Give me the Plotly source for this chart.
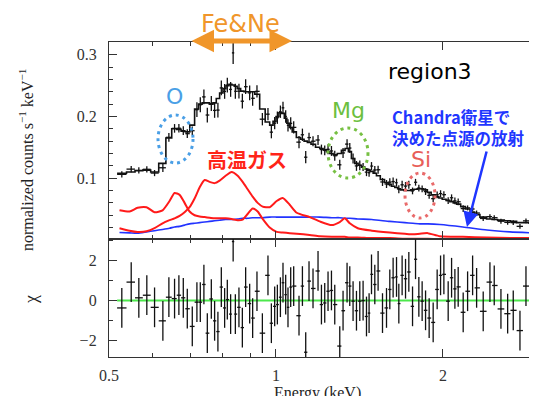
import numpy as np
import plotly.graph_objects as go

# ---------------- data ----------------
energy = [0.5273, 0.5483, 0.5659, 0.5850, 0.6041, 0.6253, 0.6411, 0.6564, 0.6683, 0.6806,
          0.6920, 0.7065, 0.7202, 0.7304, 0.7414, 0.7520, 0.7646, 0.7751, 0.7858, 0.7970,
          0.8080, 0.8171, 0.8284, 0.8371, 0.8448, 0.8575, 0.8697, 0.8817, 0.8965, 0.9077,
          0.9241, 0.9451, 0.9673, 0.9811, 0.9946, 1.0058, 1.0185, 1.0295, 1.0411, 1.0511,
          1.0630, 1.0763, 1.1003, 1.1160, 1.1314, 1.1470, 1.1662, 1.1907, 1.2077, 1.2243,
          1.2412, 1.2589, 1.2763, 1.3031, 1.3211, 1.3432, 1.3584, 1.3771, 1.3967, 1.4160,
          1.4356, 1.4560, 1.4718, 1.4866, 1.5071, 1.5279, 1.5561, 1.5822, 1.6040, 1.6262,
          1.6493, 1.6652, 1.6881, 1.7122, 1.7358, 1.7627, 1.7848, 1.8095, 1.8344, 1.8606,
          1.8886, 1.9203, 1.9524, 1.9802, 2.0076, 2.0438, 2.0728, 2.1015, 2.1305, 2.1752,
          2.2154, 2.2619, 2.2998, 2.3637, 2.4305, 2.4743, 2.5442, 2.6160, 2.6776, 2.7532,
          2.8227, 2.8976]

model = [0.108, 0.110, 0.112, 0.113, 0.110, 0.124, 0.165, 0.180, 0.179, 0.176,
         0.175, 0.186, 0.212, 0.220, 0.222, 0.222, 0.220, 0.222, 0.229, 0.238,
         0.245, 0.250, 0.252, 0.251, 0.249, 0.245, 0.241, 0.240, 0.240, 0.240,
         0.236, 0.212, 0.191, 0.186, 0.192, 0.200, 0.206, 0.205, 0.197, 0.189,
         0.182, 0.175, 0.166, 0.163, 0.160, 0.158, 0.155, 0.150, 0.148, 0.146,
         0.143, 0.140, 0.138, 0.140, 0.145, 0.148, 0.143, 0.132, 0.124, 0.121,
         0.118, 0.115, 0.113, 0.111, 0.108, 0.104, 0.098, 0.093, 0.090, 0.087,
         0.085, 0.083, 0.081, 0.080, 0.080, 0.081, 0.082, 0.083, 0.083, 0.081,
         0.077, 0.073, 0.070, 0.068, 0.066, 0.064, 0.062, 0.060, 0.058, 0.054,
         0.050, 0.045, 0.041, 0.037, 0.034, 0.033, 0.032, 0.031, 0.030, 0.028,
         0.028, 0.027]

counts = [0.1062, 0.1147, 0.1127, 0.1144, 0.1083, 0.1169, 0.1662, 0.1807, 0.1809, 0.1770,
          0.1721, 0.1769, 0.2110, 0.2190, 0.2317, 0.2023, 0.2210, 0.2098, 0.2103, 0.2462,
          0.2406, 0.2506, 0.2438, 0.3030, 0.2408, 0.2409, 0.2247, 0.2482, 0.2382, 0.2294,
          0.2407, 0.1956, 0.2037, 0.1746, 0.1891, 0.1980, 0.2077, 0.2140, 0.2000, 0.1856,
          0.1888, 0.1823, 0.1584, 0.1703, 0.1340, 0.1658, 0.1599, 0.1619, 0.1464, 0.1450,
          0.1468, 0.1441, 0.1364, 0.1217, 0.1409, 0.1552, 0.1488, 0.1318, 0.1199, 0.1208,
          0.1180, 0.1098, 0.1089, 0.1196, 0.1133, 0.1137, 0.0939, 0.0906, 0.0936, 0.0945,
          0.0927, 0.0820, 0.0893, 0.0872, 0.0894, 0.0794, 0.0934, 0.0840, 0.0828, 0.0783,
          0.0722, 0.0669, 0.0731, 0.0750, 0.0733, 0.0638, 0.0683, 0.0632, 0.0618, 0.0508,
          0.0519, 0.0501, 0.0436, 0.0348, 0.0377, 0.0360, 0.0303, 0.0284, 0.0280, 0.0220,
          0.0309, 0.0224]

counts_err = [0.005, 0.005, 0.005, 0.005, 0.005, 0.007, 0.007, 0.007, 0.007, 0.007,
              0.007, 0.007, 0.012, 0.012, 0.012, 0.012, 0.012, 0.012, 0.012, 0.012,
              0.012, 0.012, 0.012, 0.018, 0.012, 0.012, 0.012, 0.012, 0.012, 0.012,
              0.010, 0.010, 0.010, 0.010, 0.010, 0.010, 0.010, 0.010, 0.010, 0.010,
              0.010, 0.010, 0.010, 0.010, 0.010, 0.008, 0.008, 0.008, 0.008, 0.008,
              0.008, 0.008, 0.008, 0.008, 0.008, 0.008, 0.008, 0.008, 0.008, 0.008,
              0.0065, 0.0065, 0.0065, 0.0065, 0.0065, 0.0065, 0.0065, 0.0065, 0.0065, 0.0065,
              0.0065, 0.0065, 0.0065, 0.0065, 0.0065, 0.0055, 0.0055, 0.0055, 0.0055, 0.0055,
              0.0055, 0.0055, 0.0055, 0.0055, 0.0055, 0.0055, 0.0055, 0.0055, 0.0055, 0.0055,
              0.004, 0.004, 0.004, 0.004, 0.004, 0.004, 0.004, 0.004, 0.004, 0.004,
              0.004, 0.004]

resid = [-0.37, 0.93, 0.14, 0.27, -0.34, -1.02, 0.17, 0.10, 0.27, 0.14,
         -0.41, -1.30, -0.08, -0.08, 0.81, -1.64, 0.08, -1.02, -1.56, 0.68,
         -0.37, 0.05, -0.68, 2.97, -0.68, -0.34, -1.36, 0.68, -0.15, -0.88,
         0.47, -1.64, 1.27, -1.14, -0.29, -0.20, 0.17, 0.90, 0.30, -0.34,
         0.68, 0.73, -0.76, 0.73, -2.60, 0.98, 0.61, 1.49, -0.20, -0.12,
         0.47, 0.51, -0.20, -2.29, -0.51, 0.90, 0.73, -0.03, -0.51, -0.03,
         0.00, -0.80, -0.63, 1.32, 0.81, 1.49, -0.63, -0.37, 0.56, 1.15,
         1.19, -0.15, 1.27, 1.10, 1.44, -0.29, 2.08, 0.19, -0.03, -0.49,
         -0.88, -1.10, 0.56, 1.27, 1.32, -0.03, 1.15, 0.59, 0.69, -0.59,
         0.47, 1.27, 0.64, -0.54, 0.93, 0.76, -0.42, -0.66, -0.49, -1.51,
         0.73, -1.14]

comp_energy = [0.5223, 0.5445, 0.5629, 0.5843, 0.6041, 0.6245, 0.6429, 0.6564, 0.6702, 0.6843,
               0.6986, 0.7133, 0.7283, 0.7436, 0.7592, 0.7751, 0.7914, 0.8114, 0.8319, 0.8529,
               0.8708, 0.8891, 0.9077, 0.9268, 0.9462, 0.9742, 1.0029, 1.0282, 1.0586, 1.0898,
               1.1503, 1.1991, 1.2605, 1.3031, 1.3304, 1.3584, 1.4043, 1.4884, 1.6040, 1.7072,
               1.7649, 1.8170, 1.8785, 1.9745, 2.1725, 2.4004, 2.6411, 2.9550]

hot_gas_1 = [0.048, 0.046, 0.052, 0.053, 0.045, 0.048, 0.063, 0.076, 0.073, 0.060,
             0.046, 0.040, 0.038, 0.037, 0.036, 0.035, 0.035, 0.035, 0.034, 0.032,
             0.033, 0.042, 0.051, 0.046, 0.034, 0.020, 0.013, 0.012, 0.011, 0.010,
             0.008, 0.006, 0.005, 0.005, 0.005, 0.004, 0.004, 0.003, 0.003, 0.002,
             0.002, 0.002, 0.002, 0.001, 0.001, 0.001, 0.001, 0.001]

hot_gas_2 = [0.019, 0.015, 0.013, 0.014, 0.019, 0.027, 0.032, 0.035, 0.039, 0.045,
             0.053, 0.067, 0.085, 0.097, 0.094, 0.092, 0.096, 0.104, 0.110, 0.104,
             0.094, 0.082, 0.070, 0.060, 0.054, 0.053, 0.063, 0.068, 0.057, 0.044,
             0.037, 0.030, 0.024, 0.029, 0.035, 0.027, 0.019, 0.015, 0.012, 0.010,
             0.009, 0.010, 0.011, 0.006, 0.005, 0.004, 0.003, 0.003]

point_source = [0.012, 0.0115, 0.011, 0.013, 0.015, 0.017, 0.019, 0.021, 0.022, 0.024,
                0.026, 0.027, 0.028, 0.029, 0.030, 0.031, 0.032, 0.033, 0.033, 0.034,
                0.035, 0.035, 0.036, 0.036, 0.036, 0.037, 0.037, 0.037, 0.037, 0.037,
                0.037, 0.037, 0.036, 0.036, 0.035, 0.035, 0.034, 0.033, 0.030, 0.028,
                0.027, 0.026, 0.026, 0.025, 0.021, 0.016, 0.013, 0.011]

x_tickvals = [0.5, 1, 2]
x_ticktext = ["0.5", "1", "2"]
x_minor = [0.6, 0.7, 0.8, 0.9]
y1_tickvals = [0.1, 0.2, 0.3]
y1_ticktext = ["0.1", "0.2", "0.3"]
y2_tickvals = [-2, 0, 2]
y2_ticktext = ["\u22122", "0", "2"]
x_range = [0.5, 2.955]
y1_range = [0.0015, 0.3206]
y2_range = [-2.84, 3.1]

# ---------------- bins ----------------
E = np.array(energy)
logE = np.log10(E)
mid = 0.5 * (logE[1:] + logE[:-1])
lo = 10 ** np.concatenate([[2 * logE[0] - mid[0]], mid])
hi = 10 ** np.concatenate([mid, [2 * logE[-1] - mid[-1]]])

INK = "#111111"
fig = go.Figure()

# model components (top panel)
for comp, col, w in [(point_source, "#2233FF", 1.6), (hot_gas_1, "#FF1A1A", 2.0), (hot_gas_2, "#FF1A1A", 2.0)]:
    fig.add_trace(go.Scatter(x=comp_energy, y=comp, mode="lines",
                             line=dict(color=col, width=w, shape="spline", smoothing=0.6),
                             xaxis="x", yaxis="y", hoverinfo="skip"))

# data with error bars
fig.add_trace(go.Scatter(
    x=energy, y=counts, mode="markers", marker=dict(size=1, color=INK),
    error_x=dict(type="data", symmetric=False, array=hi - E, arrayminus=E - lo,
                 width=0, thickness=1.3, color=INK),
    error_y=dict(type="data", array=counts_err, width=0, thickness=1.3, color=INK),
    xaxis="x", yaxis="y"))

# total model as histogram
fig.add_trace(go.Scatter(x=list(lo) + [hi[-1]], y=model + [model[-1]], mode="lines",
                         line=dict(shape="hv", color=INK, width=1.6), xaxis="x", yaxis="y"))

# residual panel
fig.add_trace(go.Scatter(x=[lo[0], hi[-1]], y=[0, 0], mode="lines",
                         line=dict(color="#4CE84C", width=2), xaxis="x2", yaxis="y2"))
fig.add_trace(go.Scatter(
    x=energy, y=resid, mode="markers", marker=dict(size=1, color=INK),
    error_x=dict(type="data", symmetric=False, array=hi - E, arrayminus=E - lo,
                 width=0, thickness=1.3, color=INK),
    error_y=dict(type="constant", value=1, width=0, thickness=1.3, color=INK),
    xaxis="x2", yaxis="y2"))

axcol = "#333333"
tickfont = dict(family="Liberation Serif", size=16, color="#333333")
common = dict(showline=True, linecolor=axcol, linewidth=1.3, mirror="ticks", ticks="inside",
              tickcolor=axcol, tickwidth=1.3, showgrid=False, zeroline=False, tickfont=tickfont)

split = 0.3746
lx = [np.log10(x_range[0]), np.log10(x_range[1])]
# the page body adds an 8px offset, so the figure is 8px smaller and margins shifted
fig.update_layout(
    width=529, height=388,
    margin=dict(l=101, r=0, t=34, b=39),
    paper_bgcolor="white", plot_bgcolor="white", showlegend=False,
    xaxis=dict(common, type="log", range=lx, domain=[0, 1], anchor="y",
               tickmode="array", tickvals=x_tickvals, ticktext=x_ticktext, ticklen=8,
               showticklabels=False,
               minor=dict(tickvals=x_minor, ticklen=4, ticks="inside", tickcolor=axcol, tickwidth=1.3)),
    xaxis2=dict(common, type="log", range=lx, domain=[0, 1], anchor="y2",
                tickmode="array", tickvals=x_tickvals, ticktext=x_ticktext, ticklen=8,
                ticklabelstandoff=4,
                minor=dict(tickvals=x_minor, ticklen=4, ticks="inside", tickcolor=axcol, tickwidth=1.3)),
    yaxis=dict(common, range=y1_range, domain=[split, 1], anchor="x",
               tickmode="array", tickvals=y1_tickvals, ticktext=y1_ticktext, ticklen=8,
               ticklabelstandoff=8,
               minor=dict(dtick=0.02, tick0=0, ticklen=4, ticks="inside", tickcolor=axcol, tickwidth=1.3)),
    yaxis2=dict(common, range=y2_range, domain=[0, split], anchor="x2",
                tickmode="array", tickvals=y2_tickvals, ticktext=y2_ticktext, ticklen=8,
                ticklabelstandoff=8,
                minor=dict(dtick=1, tick0=0, ticklen=4, ticks="inside", tickcolor=axcol, tickwidth=1.3)),
)

LAT = "DejaVu Sans"
JP = "Noto Sans CJK JP"


def txt(x, y, text, size, color, family=LAT, xanchor="center", yanchor="middle", angle=0):
    fig.add_annotation(x=x, y=y, xref="paper", yref="paper", text=text, showarrow=False,
                       xanchor=xanchor, yanchor=yanchor, textangle=angle,
                       font=dict(family=family, size=size, color=color))


# axis titles
txt(-0.194, 0.625, "normalized counts s<sup>\u22121</sup> keV<sup>\u22121</sup>", 16, "#222222",
    family="Liberation Serif", angle=-90)
txt(-0.182, 0.181, "\u03c7", 18, "#222222", family="Liberation Serif", angle=-90)
txt(0.488, -0.079, "Energy (keV)", 16, "#222222", family="Liberation Serif", yanchor="top")

# labels
txt(0.3084, 1.0587, "Fe&amp;Ne", 24, "#F0962A")
txt(0.75, 0.9048, "region3", 22, "#000000")
txt(0.1542, 0.8254, "O", 22, "#4A9FE6")
txt(0.5596, 0.7841, "Mg", 22, "#6CBF3F")
txt(0.7301, 0.6254, "Si", 22, "#E85E58")
txt(0.3213, 0.6254, "<b>高温ガス</b>", 20, "#FF2418", family=JP)
txt(0.6565, 0.7619, "<b>Chandra衛星で</b>", 16.5, "#1F36FF", family=JP, xanchor="left")
txt(0.6565, 0.6952, "<b>決めた点源の放射</b>", 16.5, "#1F36FF", family=JP, xanchor="left")

# Fe&Ne double arrow
fig.add_annotation(x=0.4276, y=1.0032, xref="paper", yref="paper", ax=-102, ay=0,
                   axref="pixel", ayref="pixel", text="", showarrow=True,
                   arrowhead=2, startarrowhead=2, arrowside="end+start",
                   arrowsize=0.9, startarrowsize=0.9, arrowwidth=5, arrowcolor="#F0962A")
# point-source arrow
fig.add_annotation(x=0.8364, y=0.4127, xref="paper", yref="paper", ax=20, ay=-77,
                   text="", showarrow=True, arrowhead=2, arrowsize=1.2, arrowwidth=2.5,
                   arrowcolor="#1F36FF")

# dotted ellipses
for (x0, x1, y0, y1, col) in [(0.1145, 0.1963, 0.6159, 0.7683, "#4A9FE6"),
                              (0.5117, 0.6051, 0.5683, 0.7270, "#77C043"),
                              (0.6916, 0.7617, 0.4413, 0.5841, "#E96A6A")]:
    fig.add_shape(type="circle", xref="paper", yref="paper", x0=x0, x1=x1, y0=y0, y1=y1,
                  line=dict(color=col, width=3, dash="3px,4px"))

fig.write_html("out.html")
